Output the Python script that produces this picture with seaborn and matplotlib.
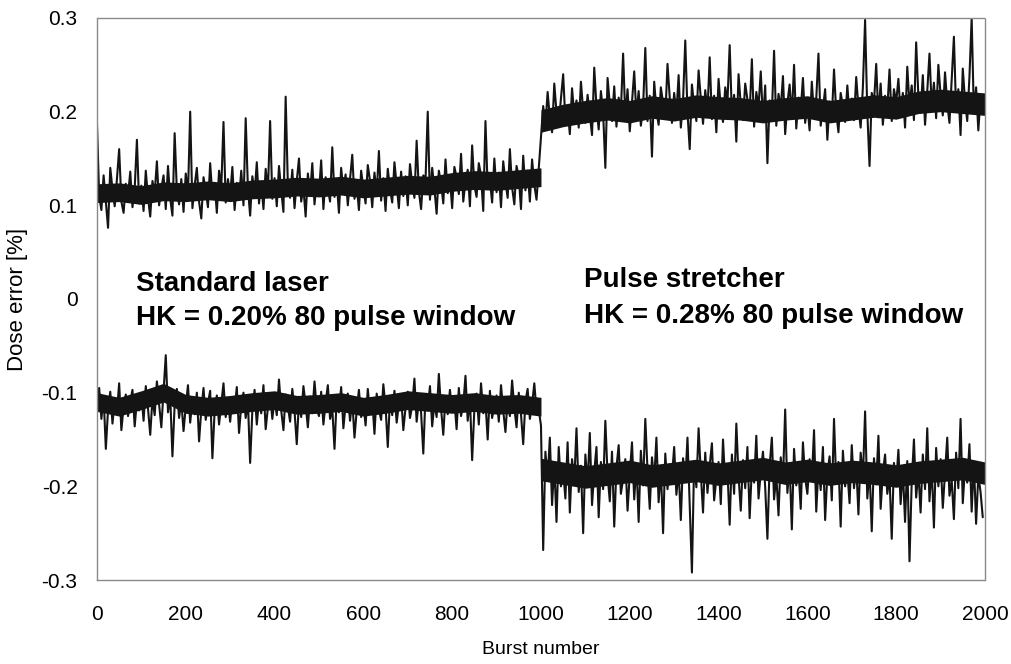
import numpy as np
import pandas as pd
import matplotlib
matplotlib.use("Agg")
import matplotlib.pyplot as plt
import seaborn as sns

# Dose error every 5 bursts, in units of 0.001 %
upper_milli = [
    188, 110, 95, 132, 104, 76, 140, 117, 99, 128, 160, 104, 92, 123, 110, 136, 98, 118, 170, 102,
    121, 94, 137, 108, 88, 126, 113, 147, 100, 118, 132, 96, 142, 107, 89, 177, 115, 101, 128, 93,
    134, 112, 200, 97, 121, 140, 104, 86, 130, 116, 98, 145, 109, 124, 92, 137, 119, 189, 103, 128,
    111, 141, 95, 124, 106, 137, 100, 193, 118, 89, 131, 112, 146, 102, 125, 96, 139, 114, 190, 107,
    129, 99, 142, 116, 93, 216, 121, 108, 138, 97, 126, 150, 104, 119, 88, 134, 111, 145, 101, 127,
    113, 148, 96, 130, 118, 104, 162, 109, 125, 92, 140, 115, 133, 100, 128, 154, 107, 122, 95, 137,
    119, 102, 143, 126, 98, 135, 112, 158, 105, 129, 94, 139, 117, 103, 146, 121, 97, 136, 110, 131,
    100, 144, 123, 108, 169, 115, 96, 132, 127, 200, 106, 140, 118, 91, 137, 124, 102, 149, 113, 128,
    97, 141, 130, 112, 155, 104, 126, 138, 99, 164, 121, 109, 145, 132, 94, 190, 118, 127, 103, 150,
    114, 135, 98, 147, 125, 108, 160, 119, 101, 142, 130, 96, 153, 116, 137, 104, 149, 122, 106, 139,
    172, 206, 185, 221, 193, 178, 230, 199, 186, 214, 240, 190, 203, 176, 225, 197, 212, 183, 232, 201,
    188, 218, 196, 175, 247, 205, 181, 222, 199, 140, 236, 208, 190, 227, 184, 215, 201, 262, 193, 224,
    179, 210, 243, 196, 222, 185, 205, 268, 190, 217, 152, 232, 201, 186, 226, 209, 194, 251, 215, 188,
    220, 197, 239, 183, 212, 276, 199, 160, 229, 206, 190, 244, 214, 187, 223, 200, 258, 192, 217, 178,
    235, 204, 189, 226, 210, 271, 196, 218, 168, 240, 207, 191, 230, 213, 198, 256, 184, 221, 205, 243,
    190, 228, 145, 212, 197, 265, 185, 219, 203, 238, 176, 209, 229, 194, 250, 182, 215, 201, 236, 188,
    207, 180, 232, 196, 214, 262, 185, 203, 224, 170, 211, 193, 245, 199, 178, 220, 206, 189, 228, 195,
    214, 191, 237, 204, 183, 226, 298, 199, 142, 220, 209, 251, 194, 230, 186, 217, 203, 245, 190, 224,
    210, 235, 197, 220, 183, 248, 207, 228, 191, 274, 216, 199, 239, 186, 222, 262, 205, 231, 193, 250,
    218, 196, 242, 209, 188, 233, 280, 201, 224, 175, 246, 212, 190, 237, 300, 198, 226, 180, 215, 204,
]

lower_milli = [
    -112, -95, -128, -104, -160, -118, -99, -133, -107, -121, -90, -140, -115, -102, -125, -110, -97, -136, -108, -119,
    -101, -130, -93, -117, -145, -106, -124, -88, -112, -137, -98, -60, -121, -104, -168, -113, -96, -127, -109, -141,
    -115, -92, -132, -107, -123, -100, -152, -118, -95, -129, -111, -98, -170, -120, -103, -134, -112, -90, -126, -108,
    -131, -105, -118, -94, -143, -113, -100, -127, -110, -175, -119, -97, -134, -108, -122, -92, -139, -116, -103, -128,
    -107, -124, -86, -119, -140, -102, -115, -131, -96, -120, -155, -109, -126, -93, -113, -137, -104, -122, -88, -117,
    -125, -99, -134, -111, -92, -128, -117, -160, -105, -121, -94, -138, -113, -101, -130, -108, -148, -119, -97, -126,
    -110, -135, -96, -122, -107, -144, -101, -118, -129, -91, -115, -158, -106, -124, -98, -132, -112, -103, -140, -116,
    -99, -127, -114, -85, -131, -108, -121, -165, -102, -119, -93, -136, -111, -126, -80, -117, -145, -104, -123, -97,
    -120, -108, -139, -95, -125, -113, -82, -130, -106, -172, -118, -101, -134, -90, -122, -110, -150, -98, -127, -114,
    -103, -131, -92, -119, -142, -107, -125, -87, -116, -137, -100, -123, -155, -109, -96, -128, -113, -90, -120, -118,
    -135, -268, -163, -193, -148, -220, -176, -238, -158, -200, -183, -213, -153, -228, -171, -195, -138, -206, -178, -250,
    -166, -198, -143, -220, -184, -158, -233, -174, -203, -130, -188, -216, -163, -243, -180, -156, -208, -192, -171, -226,
    -187, -153, -214, -176, -238, -162, -199, -128, -183, -224, -169, -194, -148, -217, -181, -250, -165, -203, -177, -190,
    -158, -209, -182, -236, -170, -195, -148, -221, -292, -173, -201, -138, -186, -228, -164, -207, -178, -154, -215, -192,
    -174, -219, -150, -197, -183, -241, -166, -208, -133, -189, -226, -172, -202, -158, -234, -180, -196, -146, -213, -185,
    -163, -201, -256, -178, -148, -214, -188, -231, -169, -195, -118, -207, -176, -246, -160, -199, -182, -224, -153, -191,
    -208, -171, -193, -140, -227, -179, -204, -158, -236, -186, -168, -215, -128, -197, -174, -243, -162, -200, -183, -218,
    -156, -202, -177, -230, -164, -191, -120, -213, -181, -248, -170, -198, -146, -224, -185, -166, -208, -189, -256, -175,
    -197, -161, -219, -182, -238, -173, -280, -195, -150, -212, -184, -228, -166, -203, -138, -216, -178, -244, -159, -200,
    -171, -223, -186, -148, -210, -193, -235, -164, -202, -128, -218, -180, -196, -155, -227, -174, -240, -188, -206, -233,
]

# extent of the dense dark core of each trace, read every 50 bursts (0.001 %)
core_left_bursts = [0, 50, 100, 150, 200, 250, 300, 350, 400, 450, 500,
                    550, 600, 650, 700, 750, 800, 850, 900, 950, 1000]
core_right_bursts = [1000, 1050, 1100, 1150, 1200, 1250, 1300, 1350, 1400, 1450, 1500,
                     1550, 1600, 1650, 1700, 1750, 1800, 1850, 1900, 1950, 2000]
upper_core_lo_left = [103, 104, 101, 105, 104, 106, 104, 107, 108, 110, 109, 111, 108, 110, 112, 111, 115, 117, 116, 118, 120]
upper_core_hi_left = [123, 124, 121, 125, 124, 126, 124, 127, 128, 130, 129, 131, 128, 130, 132, 131, 135, 137, 136, 138, 140]
upper_core_lo_right = [178, 184, 188, 191, 188, 193, 190, 194, 192, 191, 188, 191, 193, 188, 191, 194, 192, 198, 200, 198, 196]
upper_core_hi_right = [202, 208, 212, 215, 212, 217, 214, 218, 216, 215, 212, 215, 217, 212, 215, 218, 216, 222, 224, 222, 220]
lower_core_hi_left = [-100, -105, -98, -90, -102, -105, -103, -100, -98, -103, -102, -100, -105, -102, -98, -100, -102, -100, -103, -102, -105]
lower_core_lo_left = [-120, -125, -118, -110, -122, -125, -123, -120, -118, -123, -122, -120, -125, -122, -118, -120, -122, -120, -123, -122, -125]
lower_core_hi_right = [-170, -174, -178, -175, -172, -177, -174, -171, -175, -172, -169, -174, -171, -175, -172, -174, -177, -173, -171, -169, -174]
lower_core_lo_right = [-194, -198, -202, -199, -196, -201, -198, -195, -199, -196, -193, -198, -195, -199, -196, -198, -201, -197, -195, -193, -198]

burst_step = 5
x_ticks = [0, 200, 400, 600, 800, 1000, 1200, 1400, 1600, 1800, 2000]
y_ticks = [-0.3, -0.2, -0.1, 0, 0.1, 0.2, 0.3]
y_tick_labels = ["-0.3", "-0.2", "-0.1", "0", "0.1", "0.2", "0.3"]

left_title = "Standard laser"
left_note = "HK = 0.20% 80 pulse window"
right_title = "Pulse stretcher"
right_note = "HK = 0.28% 80 pulse window"

bursts = np.arange(len(upper_milli)) * burst_step
df_up = pd.DataFrame({"burst": bursts, "dose": np.array(upper_milli) / 1000})
df_lo = pd.DataFrame({"burst": bursts, "dose": np.array(lower_milli) / 1000})

sns.set_theme(style="white")
plt.rcParams["font.family"] = ["Liberation Sans", "DejaVu Sans"]

fig = plt.figure(figsize=(10.12, 6.64), dpi=100)
ax = fig.add_axes([0.0958, 0.1265, 0.8775, 0.8464])

ink = "#141414"

# dark core ribbons
for xs, lo, hi in [
    (core_left_bursts, upper_core_lo_left, upper_core_hi_left),
    (core_right_bursts, upper_core_lo_right, upper_core_hi_right),
    (core_left_bursts, lower_core_lo_left, lower_core_hi_left),
    (core_right_bursts, lower_core_lo_right, lower_core_hi_right),
]:
    ax.fill_between(xs, np.array(lo) / 1000, np.array(hi) / 1000,
                    color=ink, linewidth=0)

# the burst-by-burst traces
sns.lineplot(data=df_up, x="burst", y="dose", ax=ax, color=ink,
             linewidth=1.5, estimator=None, sort=False)
sns.lineplot(data=df_lo, x="burst", y="dose", ax=ax, color=ink,
             linewidth=1.5, estimator=None, sort=False)

ax.set_xlim(0, 2000)
ax.set_ylim(-0.3, 0.3)
ax.set_xticks(x_ticks)
ax.set_xticklabels([str(t) for t in x_ticks])
ax.set_yticks(y_ticks)
ax.set_yticklabels(y_tick_labels)

for sp in ax.spines.values():
    sp.set_color("#8a8a8a")
    sp.set_linewidth(1.0)
    sp.set_linestyle((0, (1.5, 1)))

ax.tick_params(axis="both", direction="out", length=6, width=0.8, color="#8a8a8a",
               labelsize=15, labelcolor="black")
ax.tick_params(axis="x", pad=12)
ax.tick_params(axis="y", pad=8)

ax.set_xlabel("Burst number", fontsize=14, labelpad=12, color="black")
ax.set_ylabel("Dose error [%]", fontsize=16, labelpad=10, color="black")

txt = dict(fontsize=20, fontweight="bold", color="black", va="baseline", ha="left")
ax.text(88, 0.0085, left_title, **txt)
ax.text(88, -0.0278, left_note, **txt)
ax.text(1097, 0.0128, right_title, **txt)
ax.text(1097, -0.0256, right_note, **txt)

fig.savefig("out.png", dpi=100)
